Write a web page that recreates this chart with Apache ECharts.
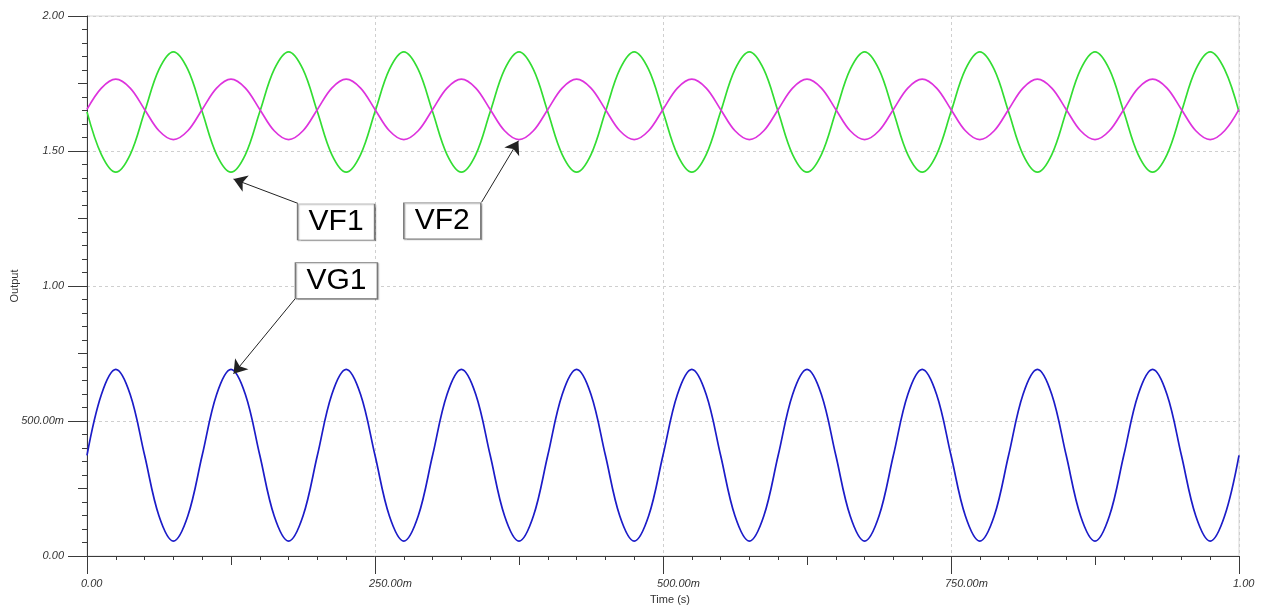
<!DOCTYPE html>
<html>
<head>
<meta charset="utf-8">
<script src="https://cdn.jsdelivr.net/npm/echarts@6/dist/echarts.min.js"></script>
<style>html,body{margin:0;padding:0;background:#fff;}#c{width:1261px;height:605px;}</style>
</head>
<body>
<div id="c"></div>
<script>
// Time in milliseconds
const timeMs = [
  0, 12.5, 25, 37.5, 50, 62.5, 75, 87.5,
  100, 112.5, 125, 137.5, 150, 162.5, 175, 187.5,
  200, 212.5, 225, 237.5, 250, 262.5, 275, 287.5,
  300, 312.5, 325, 337.5, 350, 362.5, 375, 387.5,
  400, 412.5, 425, 437.5, 450, 462.5, 475, 487.5,
  500, 512.5, 525, 537.5, 550, 562.5, 575, 587.5,
  600, 612.5, 625, 637.5, 650, 662.5, 675, 687.5,
  700, 712.5, 725, 737.5, 750, 762.5, 775, 787.5,
  800, 812.5, 825, 837.5, 850, 862.5, 875, 887.5,
  900, 912.5, 925, 937.5, 950, 962.5, 975, 987.5,
  1000
];
const VG1 = [
  0.373, 0.598, 0.691, 0.598, 0.373, 0.148, 0.055, 0.148,
  0.373, 0.598, 0.691, 0.598, 0.373, 0.148, 0.055, 0.148,
  0.373, 0.598, 0.691, 0.598, 0.373, 0.148, 0.055, 0.148,
  0.373, 0.598, 0.691, 0.598, 0.373, 0.148, 0.055, 0.148,
  0.373, 0.598, 0.691, 0.598, 0.373, 0.148, 0.055, 0.148,
  0.373, 0.598, 0.691, 0.598, 0.373, 0.148, 0.055, 0.148,
  0.373, 0.598, 0.691, 0.598, 0.373, 0.148, 0.055, 0.148,
  0.373, 0.598, 0.691, 0.598, 0.373, 0.148, 0.055, 0.148,
  0.373, 0.598, 0.691, 0.598, 0.373, 0.148, 0.055, 0.148,
  0.373, 0.598, 0.691, 0.598, 0.373, 0.148, 0.055, 0.148,
  0.373
];
const VF1 = [
  1.645, 1.487, 1.422, 1.487, 1.645, 1.802, 1.867, 1.802,
  1.645, 1.487, 1.422, 1.487, 1.645, 1.802, 1.867, 1.802,
  1.645, 1.487, 1.422, 1.487, 1.645, 1.802, 1.867, 1.802,
  1.645, 1.487, 1.422, 1.487, 1.645, 1.802, 1.867, 1.802,
  1.645, 1.487, 1.422, 1.487, 1.645, 1.802, 1.867, 1.802,
  1.645, 1.487, 1.422, 1.487, 1.645, 1.802, 1.867, 1.802,
  1.645, 1.487, 1.422, 1.487, 1.645, 1.802, 1.867, 1.802,
  1.645, 1.487, 1.422, 1.487, 1.645, 1.802, 1.867, 1.802,
  1.645, 1.487, 1.422, 1.487, 1.645, 1.802, 1.867, 1.802,
  1.645, 1.487, 1.422, 1.487, 1.645, 1.802, 1.867, 1.802,
  1.645
];
const VF2 = [
  1.654, 1.733, 1.766, 1.733, 1.654, 1.575, 1.542, 1.575,
  1.654, 1.733, 1.766, 1.733, 1.654, 1.575, 1.542, 1.575,
  1.654, 1.733, 1.766, 1.733, 1.654, 1.575, 1.542, 1.575,
  1.654, 1.733, 1.766, 1.733, 1.654, 1.575, 1.542, 1.575,
  1.654, 1.733, 1.766, 1.733, 1.654, 1.575, 1.542, 1.575,
  1.654, 1.733, 1.766, 1.733, 1.654, 1.575, 1.542, 1.575,
  1.654, 1.733, 1.766, 1.733, 1.654, 1.575, 1.542, 1.575,
  1.654, 1.733, 1.766, 1.733, 1.654, 1.575, 1.542, 1.575,
  1.654, 1.733, 1.766, 1.733, 1.654, 1.575, 1.542, 1.575,
  1.654, 1.733, 1.766, 1.733, 1.654, 1.575, 1.542, 1.575,
  1.654
];
const xTickValues = [0, 250, 500, 750, 1000];
const xTickLabels = ['0.00', '250.00m', '500.00m', '750.00m', '1.00'];
const yTickValues = [0, 0.5, 1, 1.5, 2];
const yTickLabels = ['0.00', '500.00m', '1.00', '1.50', '2.00'];

// Annotation callouts: label, box centre (ms, V), arrow start (ms, V), arrow tip (ms, V)
const calloutNames = ['VF1', 'VF2', 'VG1'];
const calloutBox = [[216.2, 1.237], [308.4, 1.241], [216.5, 1.020]];
const calloutFrom = [[183.1, 1.306], [342.5, 1.310], [180.7, 0.953]];
const calloutTo = [[127.2, 1.396], [374.5, 1.538], [127.2, 0.675]];

const axisColor = '#3a3a3a';
const labelStyle = { fontFamily: 'Liberation Sans, Arial, sans-serif', fontSize: 11, fontStyle: 'italic', color: '#333' };

function pairs(ys) { return timeMs.map((t, i) => [t, ys[i]]); }
function callout(i) {
  return {
    markPoint: {
      silent: true, animation: false,
      symbol: 'rect', symbolSize: [i === 2 ? 82 : 77, 36],
      itemStyle: { color: '#fff', borderColor: '#7a7a7a', borderWidth: 1, shadowColor: 'rgba(0,0,0,0.25)', shadowOffsetX: 1, shadowOffsetY: 1, shadowBlur: 1 },
      label: { show: true, position: 'inside', formatter: calloutNames[i], fontFamily: 'Liberation Sans, Arial, sans-serif', fontSize: 30, color: '#000', padding: [4, 0, 0, 0] },
      data: [{ coord: calloutBox[i] }],
      z: 10
    },
    markLine: {
      silent: true, animation: false,
      symbol: ['none', 'arrow'], symbolSize: 13,
      itemStyle: { color: '#111' },
      lineStyle: { color: '#222', width: 1, type: 'solid' },
      label: { show: false },
      emphasis: { disabled: true },
      data: [[{ coord: calloutFrom[i] }, { coord: calloutTo[i] }]]
    }
  };
}

const chart = echarts.init(document.getElementById('c'), null, { renderer: 'canvas' });
chart.setOption({
  animation: false,
  backgroundColor: '#fff',
  grid: { left: 87, right: 22, top: 16, bottom: 49, containLabel: false, outerBoundsMode: 'none',
          show: true, borderColor: '#d6d6d6', borderWidth: 1, backgroundColor: '#fff' },
  xAxis: [
    {
      type: 'value', min: 0, max: 1000, interval: 250,
      name: 'Time (s)', nameLocation: 'middle', nameGap: 38, nameMoveOverlap: false,
      nameTextStyle: { fontFamily: 'Liberation Sans, Arial, sans-serif', fontSize: 11, color: '#333', padding: [0, 0, 0, 14] },
      axisLine: { show: true, lineStyle: { color: axisColor, width: 1 } },
      axisTick: { show: true, inside: false, length: 18, lineStyle: { color: axisColor } },
      minorTick: { show: true, splitNumber: 10, length: 4, lineStyle: { color: axisColor } },
      axisLabel: Object.assign({ margin: 22, align: 'left', padding: [0, 0, 0, -6],
        formatter: v => xTickLabels[xTickValues.indexOf(v)] }, labelStyle),
      splitLine: { show: true, lineStyle: { color: '#cfcfcf', type: [3, 3], width: 1 } }
    },
    {
      type: 'value', min: 0, max: 1000, interval: 125, position: 'bottom', offset: 0,
      axisLine: { show: false },
      axisTick: { show: true, inside: false, length: 9, lineStyle: { color: axisColor } },
      axisLabel: { show: false },
      splitLine: { show: false }
    }
  ],
  yAxis: [
    {
      type: 'value', min: 0, max: 2, interval: 0.5,
      name: 'Output', nameLocation: 'middle', nameGap: 67, nameRotate: 90, nameMoveOverlap: false,
      nameTextStyle: { fontFamily: 'Liberation Sans, Arial, sans-serif', fontSize: 11, color: '#333' },
      axisLine: { show: true, lineStyle: { color: axisColor, width: 1 } },
      axisTick: { show: true, inside: false, length: 19, lineStyle: { color: axisColor } },
      minorTick: { show: true, splitNumber: 10, length: 5, lineStyle: { color: axisColor } },
      axisLabel: Object.assign({ margin: 23, formatter: v => yTickLabels[yTickValues.indexOf(v)] }, labelStyle),
      splitLine: { show: true, lineStyle: { color: '#cfcfcf', type: [3, 3], width: 1 } }
    },
    {
      type: 'value', min: 0, max: 2, interval: 0.25, position: 'left', offset: 0,
      axisLine: { show: false },
      axisTick: { show: true, inside: false, length: 9, lineStyle: { color: axisColor } },
      axisLabel: { show: false },
      splitLine: { show: false }
    }
  ],
  series: [
    Object.assign({ name: 'VG1', type: 'line', data: pairs(VG1), smooth: 0.35, showSymbol: false, symbol: 'none',
      lineStyle: { color: '#1c1cc8', width: 1.7 }, z: 3 }, callout(2)),
    Object.assign({ name: 'VF1', type: 'line', data: pairs(VF1), smooth: 0.35, showSymbol: false, symbol: 'none',
      lineStyle: { color: '#33dd33', width: 1.7 }, z: 3 }, callout(0)),
    Object.assign({ name: 'VF2', type: 'line', data: pairs(VF2), smooth: 0.35, showSymbol: false, symbol: 'none',
      lineStyle: { color: '#dd33dd', width: 1.7 }, z: 4 }, callout(1))
  ]
});
</script>
</body>
</html>
